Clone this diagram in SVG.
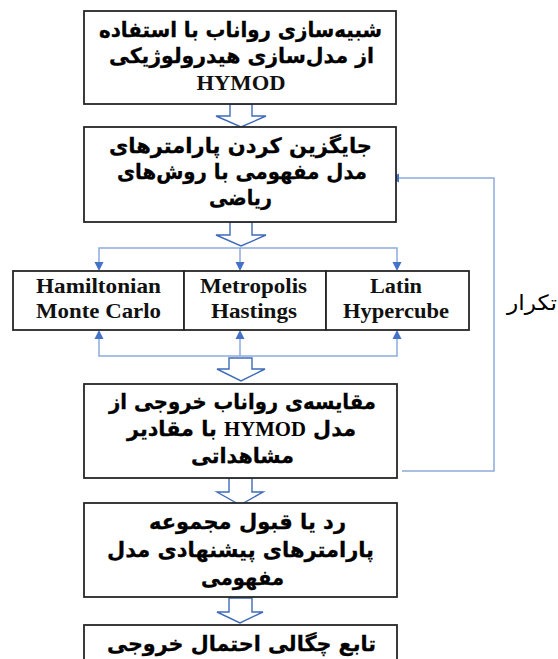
<svg xmlns="http://www.w3.org/2000/svg" width="558" height="659" viewBox="0 0 558 659">
<defs>
<style>
.box{fill:#fff;stroke:#262626;stroke-width:1.8}
.fa{font-family:'DejaVu Sans',sans-serif;font-weight:bold;font-size:21px;fill:#000;stroke:#000;stroke-width:0.3;direction:rtl;text-anchor:middle}
.lat{font-family:'Liberation Serif',serif;font-weight:bold;font-size:21px;stroke:none}
.en{font-family:'Liberation Serif',serif;font-weight:bold;font-size:20px;fill:#111;text-anchor:middle}
.hollow{fill:#fff;stroke:#3f6bb8;stroke-width:1.4;stroke-linejoin:miter}
.blue{fill:none;stroke:#8eaadb;stroke-width:1.5}
.ah{fill:#4472c4}
</style>
</defs>
<rect width="558" height="659" fill="#fff"/>

<g id="connectors">
<path class="hollow" d="M230,104 V116 H216 L241,127 L266,116 H252 V104 Z"/>
<path class="hollow" d="M230,222 V235 H216 L241,246 L266,235 H252 V222 Z"/>
<path class="hollow" d="M229,358 V369 H217 L241,381 L265,369 H252 V358 Z"/>
<path class="hollow" d="M229,478 V492 H217 L240,505 L263,492 H252 V478 Z"/>
<path class="hollow" d="M229,598 V612 H217 L240,623 L263,612 H252 V598 Z"/>
<path class="blue" d="M99,263 V248 H397 V263 M240,248 V263"/>
<polygon class="ah" points="94.5,262 103.5,262 99,271"/>
<polygon class="ah" points="235.5,262 244.5,262 240,271"/>
<polygon class="ah" points="392.5,262 401.5,262 397,271"/>
<path class="blue" d="M99,339 V356 H397 V339 M240,356 V339"/>
<polygon class="ah" points="94.5,339 103.5,339 99,330"/>
<polygon class="ah" points="235.5,339 244.5,339 240,330"/>
<polygon class="ah" points="392.5,339 401.5,339 397,330"/>
<path class="blue" d="M402,471 H494 V178 H398"/>
<polygon class="ah" points="399,173.5 399,182.5 390,178"/>
</g>

<g id="n1">
<rect class="box" x="84" y="11" width="312" height="93"/>
<text class="fa" x="240.5" y="37" textLength="283" lengthAdjust="spacingAndGlyphs">شبیه‌سازی رواناب با استفاده</text>
<text class="fa" x="241.5" y="63" textLength="265" lengthAdjust="spacingAndGlyphs">از مدل‌سازی هیدرولوژیکی</text>
<text class="en" x="241" y="90" textLength="89" lengthAdjust="spacingAndGlyphs">HYMOD</text>
</g>

<g id="n2">
<rect class="box" x="84" y="127" width="312" height="95"/>
<text class="fa" x="240.5" y="153" textLength="263" lengthAdjust="spacingAndGlyphs">جایگزین کردن پارامترهای</text>
<text class="fa" x="242" y="179" textLength="250" lengthAdjust="spacingAndGlyphs">مدل مفهومی با روش‌های</text>
<text class="fa" x="240.5" y="205" textLength="63" lengthAdjust="spacingAndGlyphs">ریاضی</text>
</g>

<g id="n3">
<rect class="box" x="13" y="271" width="171" height="59"/>
<text class="en" x="98.5" y="293" textLength="125" lengthAdjust="spacingAndGlyphs">Hamiltonian</text>
<text class="en" x="98.5" y="318" textLength="125" lengthAdjust="spacingAndGlyphs">Monte Carlo</text>
</g>
<g id="n4">
<rect class="box" x="184" y="271" width="142" height="59"/>
<text class="en" x="253.5" y="293" textLength="107" lengthAdjust="spacingAndGlyphs">Metropolis</text>
<text class="en" x="254" y="318" textLength="86" lengthAdjust="spacingAndGlyphs">Hastings</text>
</g>
<g id="n5">
<rect class="box" x="326" y="271" width="143" height="59"/>
<text class="en" x="396" y="293" textLength="52" lengthAdjust="spacingAndGlyphs">Latin</text>
<text class="en" x="396" y="318" textLength="106" lengthAdjust="spacingAndGlyphs">Hypercube</text>
</g>

<g id="n6">
<rect class="box" x="84" y="384" width="313" height="94"/>
<text class="fa" x="242.5" y="409" textLength="267" lengthAdjust="spacingAndGlyphs">مقایسه‌ی رواناب خروجی از</text>
<text class="fa" x="241.5" y="436" textLength="229" lengthAdjust="spacingAndGlyphs">مدل <tspan class="lat">HYMOD</tspan> با مقادیر</text>
<text class="fa" x="242.5" y="463" textLength="103" lengthAdjust="spacingAndGlyphs">مشاهداتی</text>
</g>

<g id="n7">
<rect class="box" x="84" y="503" width="313" height="94"/>
<text class="fa" x="247.5" y="529" textLength="197" lengthAdjust="spacingAndGlyphs">رد یا قبول مجموعه</text>
<text class="fa" x="240.5" y="557" textLength="267" lengthAdjust="spacingAndGlyphs">پارامترهای پیشنهادی مدل</text>
<text class="fa" x="242.5" y="585" textLength="83" lengthAdjust="spacingAndGlyphs">مفهومی</text>
</g>

<g id="n8">
<rect class="box" x="84" y="625" width="313" height="60"/>
<text class="fa" x="241.5" y="651" textLength="269" lengthAdjust="spacingAndGlyphs">تابع چگالی احتمال خروجی</text>
</g>

<g id="label">
<text x="532" y="310" textLength="50" lengthAdjust="spacingAndGlyphs" style="font-family:'DejaVu Sans',sans-serif;font-size:21px;fill:#000;direction:rtl;text-anchor:middle">تکرار</text>
</g>
</svg>
